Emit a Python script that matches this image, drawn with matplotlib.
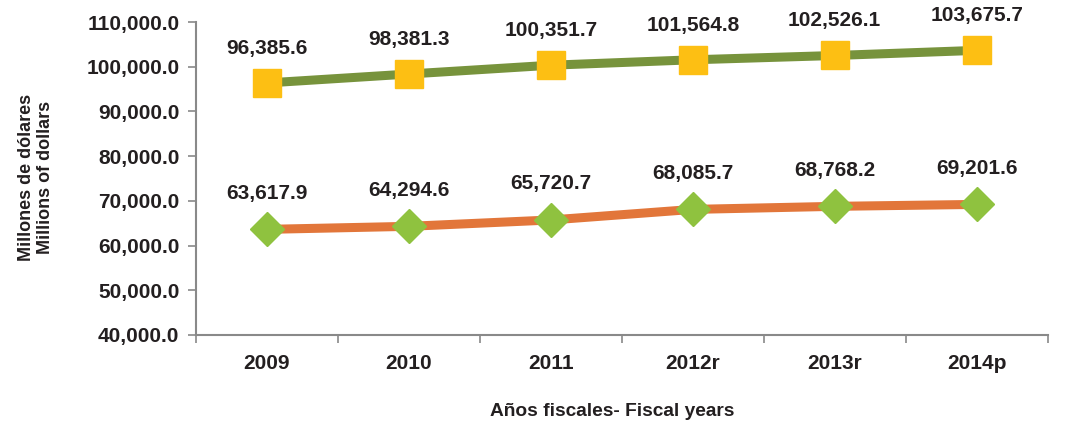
import matplotlib.pyplot as plt
from matplotlib.ticker import FuncFormatter, FixedLocator

plt.rcParams['font.family'] = ['Liberation Sans', 'DejaVu Sans']

anios = ["2009", "2010", "2011", "2012r", "2013r", "2014p"]
serie_alta = [96385.6, 98381.3, 100351.7, 101564.8, 102526.1, 103675.7]
serie_baja = [63617.9, 64294.6, 65720.7, 68085.7, 68768.2, 69201.6]

texto = "#231f20"
gris = "#898989"

fig = plt.figure(figsize=(10.89, 4.25), dpi=100)
ax = fig.add_axes([0.18, 0.212, 0.782, 0.736])

x = list(range(len(anios)))
ax.plot(x, serie_alta, color="#77933c", lw=6.5, marker="s", ms=20,
        mfc="#fdbf13", mec="#fdbf13", solid_capstyle="butt", zorder=3)
ax.plot(x, serie_baja, color="#e2763a", lw=6.5, marker="D", ms=17,
        mfc="#8fc23f", mec="#8fc23f", solid_capstyle="butt", zorder=3)

for xi, v in zip(x, serie_alta):
    ax.annotate(f"{v:,.1f}", (xi, v), xytext=(0, 25), textcoords="offset points",
                ha="center", va="center", fontsize=15, fontweight="bold", color=texto)
for xi, v in zip(x, serie_baja):
    ax.annotate(f"{v:,.1f}", (xi, v), xytext=(0, 26), textcoords="offset points",
                ha="center", va="center", fontsize=15, fontweight="bold", color=texto)

ax.set_xlim(-0.5, len(anios) - 0.5)
ax.set_ylim(40000, 110000)
ax.set_yticks(range(40000, 110001, 10000))
ax.yaxis.set_major_formatter(FuncFormatter(lambda v, p: f"{v:,.1f}"))
ax.set_xticks(x)
ax.set_xticklabels(anios)
ax.xaxis.set_minor_locator(FixedLocator([i - 0.5 for i in range(len(anios) + 1)]))

ax.tick_params(axis="y", direction="out", length=6, width=1.2, color=gris,
               labelsize=15, labelcolor=texto, pad=6)
ax.tick_params(axis="x", which="major", length=0, labelsize=15, labelcolor=texto, pad=14)
ax.tick_params(axis="x", which="minor", direction="out", length=6, width=1.2, color=gris)
for lab in ax.get_xticklabels() + ax.get_yticklabels():
    lab.set_fontweight("bold")

for s in ["top", "right"]:
    ax.spines[s].set_visible(False)
for s in ["left", "bottom"]:
    ax.spines[s].set_color(gris)
    ax.spines[s].set_linewidth(1.5)

fig.text(36 / 1089, 0.583, "Millones de dólares\nMillions of dollars", rotation=90,
         ha="center", va="center", fontsize=13, fontweight="bold", color=texto,
         linespacing=1.1)
fig.text(0.562, 1 - 412 / 425, "Años fiscales- Fiscal years", ha="center", va="center",
         fontsize=13.8, fontweight="bold", color=texto)

fig.savefig("out.png", dpi=100)
